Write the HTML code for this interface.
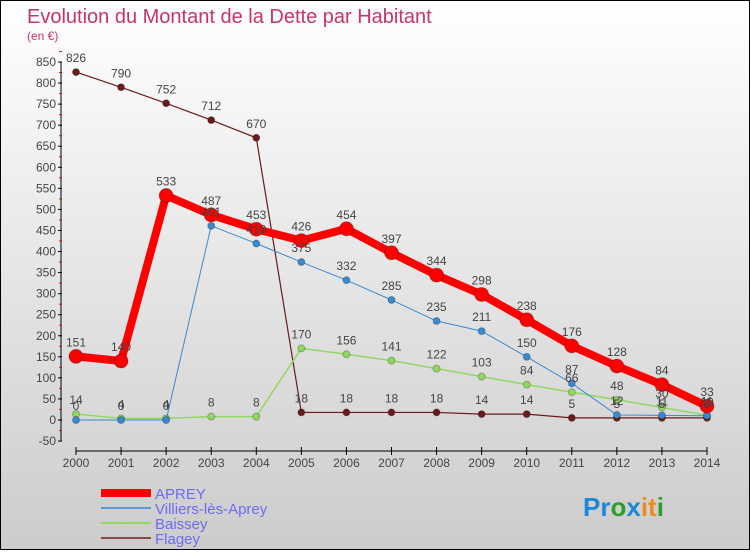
<!DOCTYPE html>
<html><head><meta charset="utf-8"><style>
html,body{margin:0;padding:0}
body{width:750px;height:550px;overflow:hidden;font-family:"Liberation Sans",sans-serif}
#wrap{position:relative;width:748px;height:548px;border:1px solid #000;background:linear-gradient(#fff,#ccc)}
</style></head><body>
<div id="wrap">
<svg id="chart" width="748" height="548">
<text x="26" y="22" font-size="20" fill="#c8336a">Evolution du Montant de la Dette par Habitant</text>
<text x="26" y="39" font-size="12" fill="#c8336a">(en €)</text>
<g id="axes"></g><g id="series"></g><g id="labels"></g>
<g font-size="15" fill="#6b6bf5">
<line x1="100" y1="492" x2="150" y2="492" stroke="#f00" stroke-width="8"/>
<text x="154" y="498">APREY</text>
<line x1="100" y1="507" x2="150" y2="507" stroke="#5b9bd5" stroke-width="2"/>
<text x="154" y="513">Villiers-lès-Aprey</text>
<line x1="100" y1="522" x2="150" y2="522" stroke="#8fd960" stroke-width="2"/>
<text x="154" y="528">Baissey</text>
<line x1="100" y1="537" x2="150" y2="537" stroke="#8b4a4a" stroke-width="2"/>
<text x="154" y="543">Flagey</text>
</g>
<text x="582" y="515" font-size="26" font-weight="bold"><tspan fill="#1e88d8">Pr</tspan><tspan fill="#2aa02a">o</tspan><tspan fill="#1e88d8">x</tspan><tspan fill="#f08a1c">it</tspan><tspan fill="#2aa02a">i</tspan></text>
</svg></div>
<script>
const years=[2000,2001,2002,2003,2004,2005,2006,2007,2008,2009,2010,2011,2012,2013,2014];
const aprey=[151,140,533,487,453,426,454,397,344,298,238,176,128,84,33];
const villiers=[0,0,0,461,419,375,332,285,235,211,150,87,12,11,10];
const baissey=[14,4,4,8,8,170,156,141,122,103,84,66,48,30,11];
const flagey=[826,790,752,712,670,18,18,18,18,14,14,5,5,5,5];
const yTicks=[-50,0,50,100,150,200,250,300,350,400,450,500,550,600,650,700,750,800,850];
const NS='http://www.w3.org/2000/svg';
const X=i=>75+i*(631/14);
const Y=v=>419-v*(358/850);
function el(tag,attrs,parent){const e=document.createElementNS(NS,tag);for(const k in attrs)e.setAttribute(k,attrs[k]);parent.appendChild(e);return e;}
const axes=document.getElementById('axes'),ser=document.getElementById('series'),lab=document.getElementById('labels');
let a=el('line',{x1:60,y1:Y(850),x2:60,y2:Y(-50),stroke:'#000','stroke-width':1},axes);


a=el('line',{x1:X(0),y1:450,x2:X(14),y2:450,stroke:'#000','stroke-width':1},axes);


yTicks.forEach(v=>{
  el('line',{x1:57,y1:Y(v),x2:61,y2:Y(v),stroke:'#000'},axes);
  el('line',{x1:58,y1:Y(v+25),x2:61,y2:Y(v+25),stroke:'#f00'},axes);
  const t=el('text',{x:55,y:Y(v)+4,'font-size':12,fill:'#444','text-anchor':'end'},axes);
  t.textContent=v;
  
  
});
years.forEach((y,i)=>{
  el('line',{x1:X(i),y1:446,x2:X(i),y2:454,stroke:'#000'},axes);
  const t=el('text',{x:X(i),y:466,'font-size':12,fill:'#444','text-anchor':'middle'},axes);
  t.textContent=y;
  
  
});
function draw(data,name,color,w,r,labels){
  const g=el('g',{},ser);
  
  
  el('polyline',{points:data.map((v,i)=>X(i)+','+Y(v)).join(' '),fill:'none',stroke:color,'stroke-width':w,'stroke-linejoin':'round'},g);
  data.forEach((v,i)=>{
    const c=el('circle',{cx:X(i),cy:Y(v),r:r,fill:color,stroke:'rgba(0,0,0,0.25)'},g);
    
    
    if(labels){const t=el('text',{x:X(i),y:Y(v)-10,'font-size':12,fill:'#444','text-anchor':'middle'},lab);
    t.textContent=v;
    
    }
  });
}
draw(flagey,'flagey','#6b1a1a',1.2,3.5,true);
draw(baissey,'baissey','#8fd960',1.5,3.5,true);
draw(villiers,'villiers','#3a8ad0',1,3.5,true);
draw(aprey,'aprey','#f00',8,7,true);
</script>
</body></html>
